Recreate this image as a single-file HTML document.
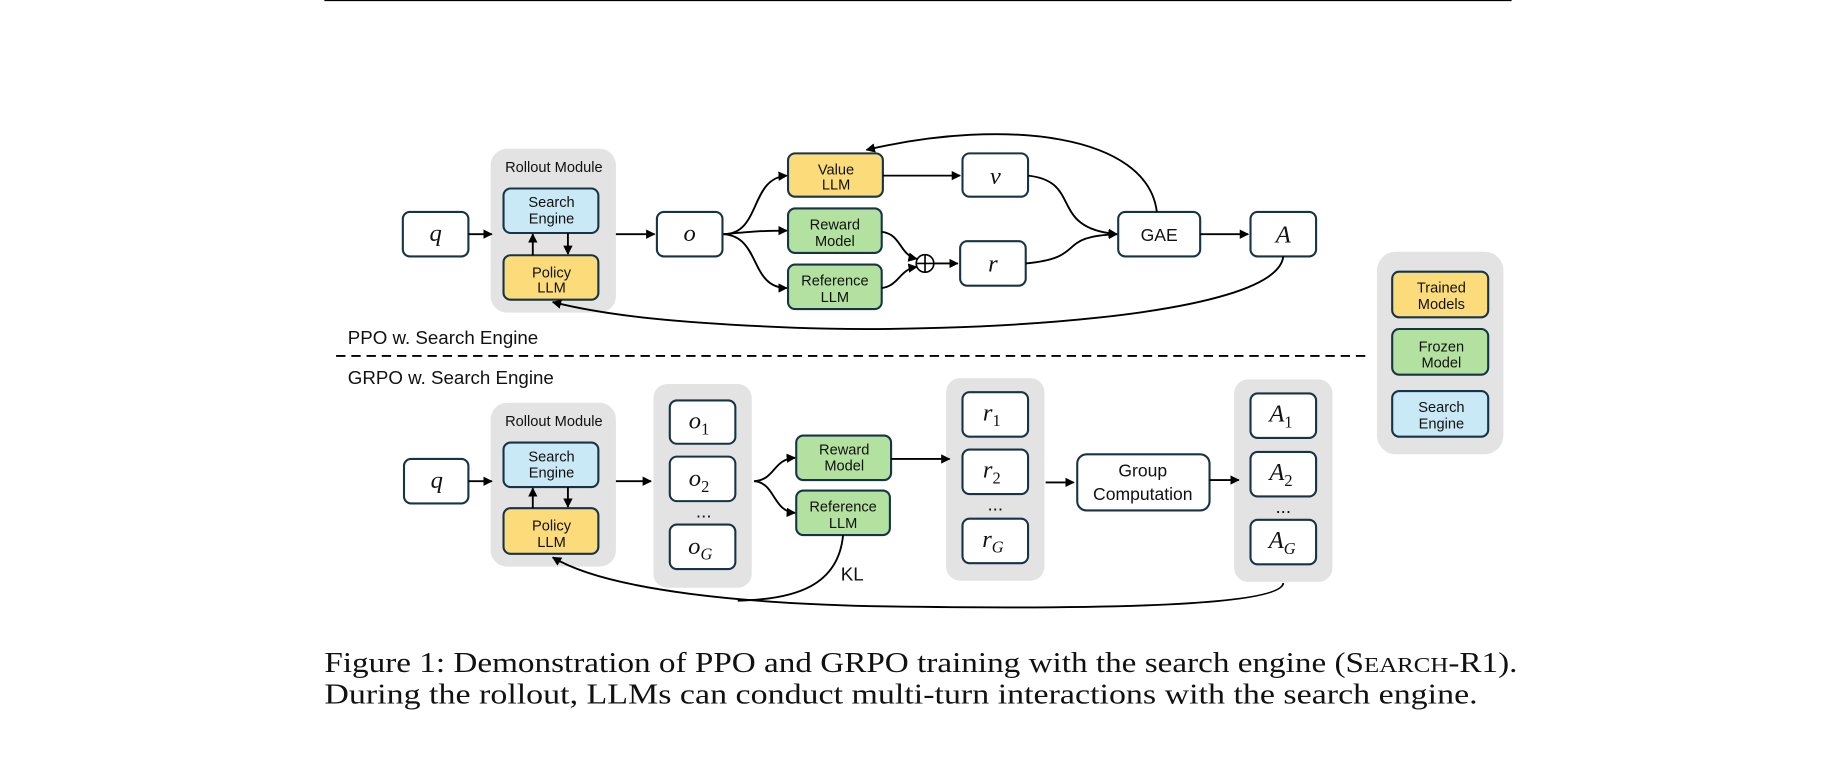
<!DOCTYPE html>
<html><head><meta charset="utf-8"><style>
html,body{margin:0;padding:0;background:#fff;}
svg{display:block;}
.s{font-family:"Liberation Sans",sans-serif;fill:#111;}
.m{font-family:"Liberation Serif",serif;font-style:italic;fill:#111;}
.c{font-family:"Liberation Serif",serif;fill:#111;}
</style></head><body>
<svg width="1836" height="758" viewBox="0 0 1568 647.4" xmlns="http://www.w3.org/2000/svg">
<defs>
<marker id="ar" viewBox="0 0 10 10" refX="9" refY="5" markerWidth="8" markerHeight="8" orient="auto-start-reverse" markerUnits="userSpaceOnUse"><path d="M0,0 L10,5 L0,10 z" fill="#000"/></marker>
</defs>
<line x1="277" y1="0.5" x2="1291" y2="0.5" stroke="#000" stroke-width="1"/>
<line x1="287" y1="304" x2="1168" y2="304" stroke="#000" stroke-width="1.6" stroke-dasharray="8,5"/>
<!-- gray groups -->
<g fill="#e3e3e3">
<rect x="419" y="127" width="107" height="140" rx="14"/>
<rect x="419" y="344" width="107" height="140" rx="14"/>
<rect x="558" y="328" width="84" height="174" rx="12"/>
<rect x="808" y="323" width="84" height="173" rx="12"/>
<rect x="1054" y="324" width="84" height="173" rx="12"/>
<rect x="1176" y="215" width="108" height="173" rx="16"/>
</g>
<g stroke="#173447" stroke-width="1.8">
<rect x="344" y="181" width="56" height="38" rx="6" fill="#fff"/>
<rect x="430" y="161" width="81" height="38" rx="6" fill="#c9e9f6"/>
<rect x="430" y="218" width="81" height="38" rx="6" fill="#fcdc7a"/>
<rect x="561" y="181" width="56" height="38" rx="6" fill="#fff"/>
<rect x="673" y="131" width="81" height="37" rx="6" fill="#fcdc7a"/>
<rect x="673" y="178" width="80" height="38" rx="6" fill="#b3e2a0"/>
<rect x="673" y="226" width="80" height="38" rx="6" fill="#b3e2a0"/>
<rect x="822" y="131" width="56" height="37" rx="6" fill="#fff"/>
<rect x="820" y="206" width="56" height="38" rx="6" fill="#fff"/>
<rect x="955" y="181" width="70" height="38" rx="6" fill="#fff"/>
<rect x="1068" y="181" width="56" height="38" rx="6" fill="#fff"/>
<rect x="345" y="392" width="55" height="38" rx="6" fill="#fff"/>
<rect x="430" y="378" width="81" height="38" rx="6" fill="#c9e9f6"/>
<rect x="430" y="434" width="81" height="39" rx="6" fill="#fcdc7a"/>
<rect x="572" y="342" width="56" height="37" rx="6" fill="#fff"/>
<rect x="572" y="390" width="56" height="38" rx="6" fill="#fff"/>
<rect x="572" y="448" width="56" height="38" rx="6" fill="#fff"/>
<rect x="680" y="372" width="81" height="38" rx="6" fill="#b3e2a0"/>
<rect x="680" y="419" width="80" height="38" rx="6" fill="#b3e2a0"/>
<rect x="822" y="335" width="56" height="38" rx="6" fill="#fff"/>
<rect x="822" y="384" width="56" height="38" rx="6" fill="#fff"/>
<rect x="822" y="443" width="56" height="38" rx="6" fill="#fff"/>
<rect x="920" y="388" width="113" height="48" rx="8" fill="#fff"/>
<rect x="1068" y="336" width="56" height="38" rx="6" fill="#fff"/>
<rect x="1068" y="386" width="56" height="38" rx="6" fill="#fff"/>
<rect x="1068" y="444" width="56" height="38" rx="6" fill="#fff"/>
<rect x="1189" y="232" width="82" height="39" rx="6" fill="#fcdc7a"/>
<rect x="1189" y="281" width="82" height="39" rx="6" fill="#b3e2a0"/>
<rect x="1189" y="334" width="82" height="39" rx="6" fill="#c9e9f6"/>
</g>
<g fill="none" stroke="#000" stroke-width="1.6">
<!-- top arrows -->
<line x1="400" y1="200" x2="420" y2="200" marker-end="url(#ar)"/>
<line x1="455" y1="218" x2="455" y2="200" marker-end="url(#ar)"/>
<line x1="485" y1="199" x2="485" y2="217" marker-end="url(#ar)"/>
<line x1="526" y1="200" x2="559" y2="200" marker-end="url(#ar)"/>
<path d="M618,200 C650,200 640,152 672,150" marker-end="url(#ar)"/>
<path d="M618,200 C640,198 650,197 672,197" marker-end="url(#ar)"/>
<path d="M618,200 C650,202 640,246 672,246" marker-end="url(#ar)"/>
<line x1="754" y1="150" x2="820" y2="150" marker-end="url(#ar)"/>
<path d="M753,198 C770,200 768,218 783,221" marker-end="url(#ar)"/>
<path d="M753,246 C768,244 768,230 783,228" marker-end="url(#ar)"/>
<line x1="798" y1="225" x2="818" y2="225" marker-end="url(#ar)"/>
<path d="M878,150 C925,155 895,195 954,200" marker-end="url(#ar)"/>
<path d="M876,225 C930,220 900,202 954,200" marker-end="url(#ar)"/>
<line x1="1025" y1="200" x2="1066" y2="200" marker-end="url(#ar)"/>
<path d="M988,181 C980,115 860,100 740,128" marker-end="url(#ar)"/>
<path d="M1096,219 C1090,272 820,285 680,280 C580,276 520,270 472,258" marker-end="url(#ar)"/>
<!-- bottom arrows -->
<line x1="400" y1="411" x2="420" y2="411" marker-end="url(#ar)"/>
<line x1="455" y1="434" x2="455" y2="417" marker-end="url(#ar)"/>
<line x1="485" y1="416" x2="485" y2="433" marker-end="url(#ar)"/>
<line x1="526" y1="411" x2="556" y2="411" marker-end="url(#ar)"/>
<path d="M644,411 C662,410 660,392 679,391" marker-end="url(#ar)"/>
<path d="M644,411 C662,412 660,437 679,438" marker-end="url(#ar)"/>
<line x1="761" y1="392" x2="811" y2="392" marker-end="url(#ar)"/>
<line x1="893" y1="412" x2="917" y2="412" marker-end="url(#ar)"/>
<line x1="1033" y1="410" x2="1058" y2="410" marker-end="url(#ar)"/>
<path d="M720,457 C716,500 680,512 630,513"/>
<path d="M1096,498 C1094,520 900,520 760,518 C640,516 520,505 472,476" marker-end="url(#ar)"/>
</g>
<!-- oplus -->
<circle cx="790" cy="225" r="7.5" fill="#fff" stroke="#000" stroke-width="1.4"/>
<line x1="782.5" y1="225" x2="797.5" y2="225" stroke="#000" stroke-width="1.4"/>
<line x1="790" y1="217.5" x2="790" y2="232.5" stroke="#000" stroke-width="1.4"/>
<!-- labels small -->
<g class="s" font-size="12.5" text-anchor="middle">
<text x="473" y="147">Rollout Module</text>
<text x="471" y="177">Search</text><text x="471" y="191">Engine</text>
<text x="471" y="237">Policy</text><text x="471" y="250">LLM</text>
<text x="714" y="149">Value</text><text x="714" y="162">LLM</text>
<text x="713" y="196">Reward</text><text x="713" y="210">Model</text>
<text x="713" y="244">Reference</text><text x="713" y="258">LLM</text>
<text x="473" y="364">Rollout Module</text>
<text x="471" y="394">Search</text><text x="471" y="408">Engine</text>
<text x="471" y="453">Policy</text><text x="471" y="467">LLM</text>
<text x="721" y="388">Reward</text><text x="721" y="402">Model</text>
<text x="720" y="437">Reference</text><text x="720" y="451">LLM</text>
<text x="1231" y="250">Trained</text><text x="1231" y="264">Models</text>
<text x="1231" y="300">Frozen</text><text x="1231" y="314">Model</text>
<text x="1231" y="352">Search</text><text x="1231" y="366">Engine</text>
</g>
<g class="s" font-size="15" text-anchor="middle">
<text x="990" y="206">GAE</text>
<text x="976" y="407">Group</text><text x="976" y="427">Computation</text>
</g>
<g class="s" font-size="16">
<text x="297" y="294">PPO w. Search Engine</text>
<text x="297" y="328">GRPO w. Search Engine</text>
<text x="718" y="496">KL</text>
</g>
<g class="m" font-size="21" text-anchor="middle">
<text x="372" y="206">q</text>
<text x="589" y="206">o</text>
<text x="850" y="157">v</text>
<text x="848" y="232">r</text>
<text x="1096" y="207">A</text>
<text x="373" y="417">q</text>
<text x="597" y="366">o<tspan font-style="normal" font-size="14" dy="5">1</tspan></text>
<text x="597" y="415">o<tspan font-style="normal" font-size="14" dy="5">2</tspan></text>
<text x="598" y="473">o<tspan font-size="14" dy="5">G</tspan></text>
<text x="847" y="359">r<tspan font-style="normal" font-size="14" dy="5">1</tspan></text>
<text x="847" y="408">r<tspan font-style="normal" font-size="14" dy="5">2</tspan></text>
<text x="848" y="467">r<tspan font-size="14" dy="5">G</tspan></text>
<text x="1094" y="360">A<tspan font-style="normal" font-size="14" dy="5">1</tspan></text>
<text x="1094" y="410">A<tspan font-style="normal" font-size="14" dy="5">2</tspan></text>
<text x="1095" y="468">A<tspan font-size="14" dy="5">G</tspan></text>
</g>
<g class="s" font-size="16" text-anchor="middle">
<text x="601" y="442">...</text>
<text x="850" y="436">...</text>
<text x="1096" y="438">...</text>
</g>
<g class="c" font-size="24">
<text x="277" y="574" textLength="1019" lengthAdjust="spacingAndGlyphs">Figure 1: Demonstration of PPO and GRPO training with the search engine (S<tspan font-size="18">EARCH</tspan>-R1).</text>
<text x="277" y="601" textLength="985" lengthAdjust="spacingAndGlyphs">During the rollout, LLMs can conduct multi-turn interactions with the search engine.</text>
</g>
</svg>
</body></html>
